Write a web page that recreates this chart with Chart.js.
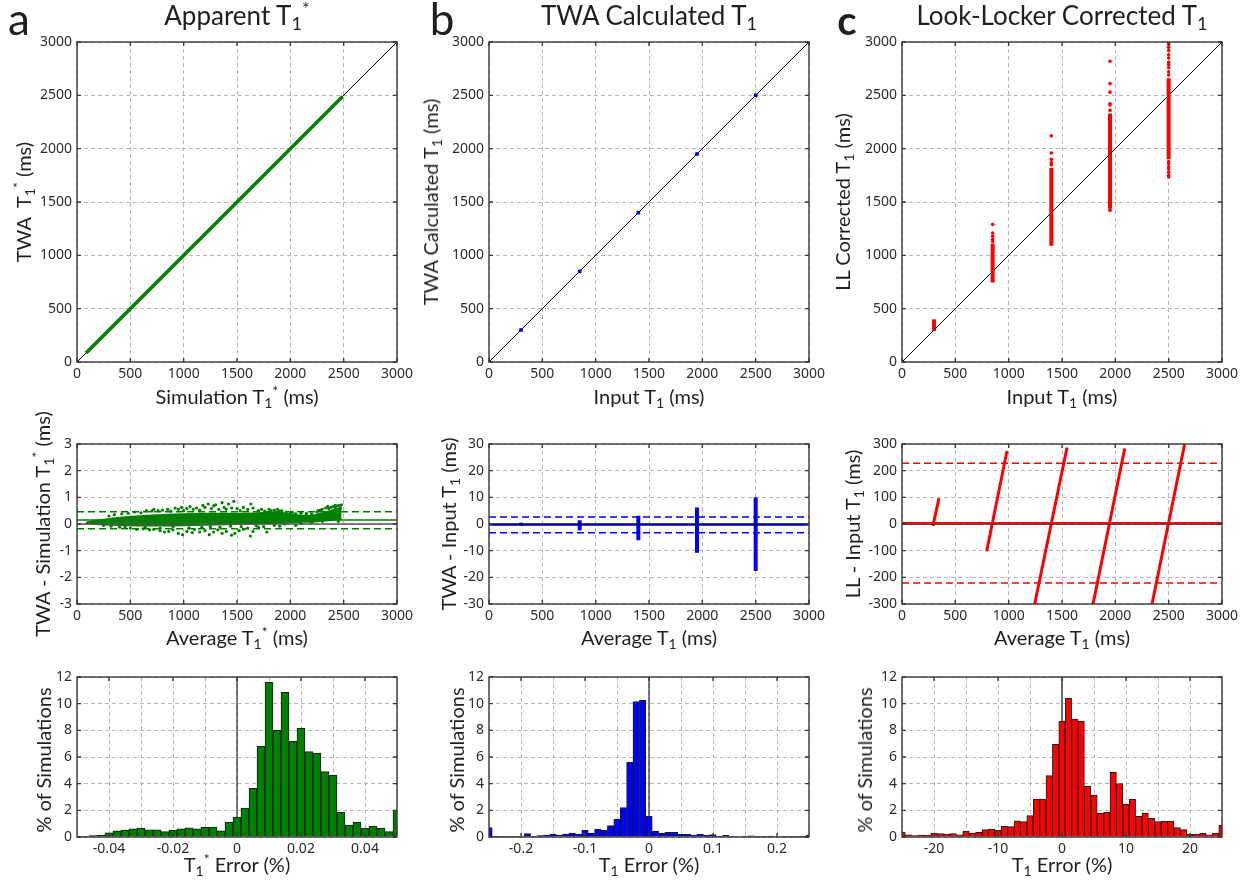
<!DOCTYPE html>
<html>
<head>
<meta charset="utf-8">
<title>T1 simulation comparison</title>
<script src="https://cdn.jsdelivr.net/npm/chart.js@4.4.1/dist/chart.umd.min.js"></script>
<style>
  body { margin: 0; width: 1250px; height: 886px; position: relative; overflow: hidden; background: #fff;
         font-family: Lato, "Noto Sans", sans-serif; color: #1f1f1f; }
  canvas { position: absolute; }
  .lbl { position: absolute; white-space: nowrap; line-height: 1; transform: translate(-50%, -50%); }
  .rot { transform: translate(-50%, -50%) rotate(-90deg); }
  sub, sup { font-size: 0.7em; line-height: 0; }
  sub { vertical-align: -0.25em; }
  sup { vertical-align: 0.55em; }
</style>
</head>
<body>
<script>
// colours used by the three columns
const GREEN = '#008000';
const BLUE = '#0000ff';
const RED = '#ff0000';

// ---- tick values ----
const t1Ticks = [0, 500, 1000, 1500, 2000, 2500, 3000];
const diffA_ticks = [-3, -2, -1, 0, 1, 2, 3];
const diffB_ticks = [-30, -20, -10, 0, 10, 20, 30];
const diffC_ticks = [-300, -200, -100, 0, 100, 200, 300];
const histY_ticks = [0, 2, 4, 6, 8, 10, 12];
const histA_grid = [-0.05, -0.04, -0.03, -0.02, -0.01, 0, 0.01, 0.02, 0.03, 0.04, 0.05];
const histA_labels = [-0.04, -0.02, 0, 0.02, 0.04];
const histB_grid = [-0.25, -0.2, -0.15, -0.1, -0.05, 0, 0.05, 0.1, 0.15, 0.2, 0.25];
const histB_labels = [-0.2, -0.1, 0, 0.1, 0.2];
const histC_grid = [-25, -20, -15, -10, -5, 0, 5, 10, 15, 20, 25];
const histC_labels = [-20, -10, 0, 10, 20];

// ---- a: apparent T1* ----
const apparentRange = [85, 2490];          // green identity run of points
const diffA_mean = 0.15, diffA_upper = 0.46, diffA_lower = -0.175;
// dense core of the Bland-Altman cloud
const cloudA_x   = [85, 150, 250, 400, 550, 700, 850, 1000, 1200, 1400, 1600, 1800, 1900, 2000, 2100, 2200, 2300, 2400, 2480];
const cloudA_top = [0.05, 0.1, 0.16, 0.23, 0.28, 0.32, 0.35, 0.37, 0.38, 0.38, 0.38, 0.42, 0.43, 0.36, 0.31, 0.3, 0.4, 0.52, 0.62];
const cloudA_bot = [0.03, 0.01, -0.02, -0.04, -0.06, -0.06, -0.06, -0.05, -0.03, -0.01, 0.01, 0.03, 0.05, 0.07, 0.08, 0.08, 0.12, 0.16, 0.2];
// scattered points around the core
const cloudA_dotsX = [300, 350, 420, 480, 540, 600, 650, 700, 720, 760, 800, 850, 880, 920, 950, 980, 1000, 1030, 1060, 1090,
  1120, 1150, 1180, 1200, 1230, 1260, 1280, 1300, 1330, 1360, 1380, 1400, 1420, 1450, 1470, 1500, 1530, 1560, 1600, 1630,
  1650, 1700, 1730, 1760, 1800, 1850, 1880, 1920, 1960, 2000, 2050, 2100, 2150, 2200, 2250, 2280, 2300, 2330, 2360, 2380,
  2400, 2420, 2440, 2460, 2470, 2480,
  250, 320, 400, 450, 500, 560, 620, 680, 720, 780, 820, 860, 900, 950, 990, 1030, 1080, 1100, 1150, 1200,
  1240, 1280, 1320, 1360, 1400, 1450, 1480, 1520, 1560, 1600, 1625, 1650, 1700, 1750, 1780, 1850, 1900, 1950, 2050, 2100,
  2200, 2300,
  640, 780, 900, 1050, 1170, 1250, 1340, 1440, 1540, 1680, 1820, 1900, 2020, 2150, 2260, 2350, 2420, 2450];
const cloudA_dotsY = [0.3, 0.35, 0.38, 0.4, 0.45, 0.42, 0.5, 0.48, 0.55, 0.5, 0.52, 0.55, 0.48, 0.6, 0.55, 0.62, 0.5, 0.58, 0.65, 0.55,
  0.6, 0.52, 0.7, 0.62, 0.75, 0.58, 0.68, 0.72, 0.55, 0.8, 0.62, 0.55, 0.75, 0.6, 0.85, 0.58, 0.5, 0.62, 0.55, 0.75,
  0.6, 0.5, 0.55, 0.48, 0.55, 0.52, 0.55, 0.5, 0.45, 0.42, 0.38, 0.4, 0.35, 0.38, 0.45, 0.52, 0.55, 0.6, 0.58, 0.62,
  0.65, 0.62, 0.68, 0.7, 0.6, 0.72,
  -0.05, -0.08, -0.12, -0.1, -0.15, -0.2, -0.18, -0.22, -0.2, -0.25, -0.3, -0.28, -0.22, -0.35, -0.4, -0.28, -0.32, -0.2, -0.3, -0.25,
  -0.4, -0.3, -0.22, -0.35, -0.28, -0.42, -0.35, -0.25, -0.2, -0.15, -0.45, -0.28, -0.12, -0.1, -0.3, -0.05, -0.08, 0.0, -0.05, 0.02,
  0.05, 0.1,
  -0.12, -0.15, -0.1, -0.14, -0.12, -0.1, -0.12, -0.08, -0.1, -0.06, 0.5, 0.48, 0.44, 0.4, 0.5, 0.66, 0.7, 0.1];
const histA_first = -0.05, histA_bin = 0.0025;
const histA_pct = [0.03, 0.05, 0.1, 0.15, 0.32, 0.47, 0.52, 0.62, 0.67, 0.54, 0.54, 0.4, 0.52, 0.62, 0.69, 0.62, 0.72, 0.74, 0.47, 1.1,
  1.5, 2.17, 3.65, 6.8, 11.6, 8.0, 10.85, 7.2, 8.15, 6.4, 6.3, 4.9, 4.65, 1.85, 0.9, 1.1, 0.67, 0.82, 0.67, 0.4, 2.0];

// ---- b: TWA calculated T1 ----
const inputT1 = [300, 850, 1400, 1950, 2500];
const twaT1 = [300, 850, 1400, 1950, 2500];
const twaDiffLo = [-0.6, -2.4, -6.1, -10.8, -17.6];
const twaDiffHi = [0.5, 1.4, 3.1, 6.2, 10.0];
const diffB_mean = -0.25, diffB_upper = 2.6, diffB_lower = -3.3;
const histB_first = -0.25, histB_bin = 0.01;
const histB_pct = [0.7, 0.07, 0.03, 0.02, 0.05, 0.05, 0.25, 0.05, 0.1, 0.12, 0.22, 0.15, 0.22, 0.3, 0.22, 0.5, 0.3, 0.6, 0.5, 0.85,
  1.35, 2.2, 5.6, 10.15, 10.25, 1.55, 0.45, 0.3, 0.35, 0.35, 0.2, 0.2, 0.15, 0.2, 0.12, 0.18, 0.05, 0.12, 0.05, 0.04,
  0.06, 0.08, 0.03, 0.02, 0.06, 0.04, 0.02, 0.01, 0.01, 0.02, 0.15];

// ---- c: Look-Locker corrected T1 ----
const llLo = [290, 745, 1090, 1440, 1900];
const llHi = [400, 1110, 1820, 2330, 2660];
const llOutX = [850, 850, 850, 850, 850, 1400, 1400, 1400, 1400, 1400, 1950, 1950, 1950, 1950, 1950, 1950, 1950, 1950,
  2500, 2500, 2500, 2500, 2500, 2500, 2500, 2500, 2500, 2500, 2500, 2500, 2500, 2500, 2500, 2500, 2500, 2500];
const llOutY = [1130, 1150, 1180, 1210, 1290, 1850, 1870, 1900, 1960, 2120, 1420, 1430, 2360, 2410, 2420, 2530, 2610, 2820,
  1735, 1750, 1780, 1810, 1830, 1860, 1880, 2690, 2720, 2760, 2790, 2810, 2850, 2880, 2920, 2950, 2980, 2995];
const llDiffStartX = [290, 794, 1244, 1791, 2344];
const llDiffStartY = [-7, -102, -300, -300, -300];
const llDiffEndX = [347, 984, 1547, 2088, 2650];
const llDiffEndY = [97, 274, 287, 283, 300];
const diffC_mean = 4, diffC_upper = 228, diffC_lower = -221;
const histC_first = -25, histC_bin = 1;
const histC_pct = [0.37, 0.17, 0.1, 0.15, 0.12, 0.3, 0.25, 0.22, 0.25, 0.17, 0.45, 0.3, 0.35, 0.55, 0.6, 0.52, 0.8, 0.78, 1.22, 1.15,
  1.6, 2.85, 2.85, 4.6, 6.95, 8.7, 10.4, 8.85, 8.7, 3.8, 3.15, 1.8, 1.85, 4.85, 4.0, 2.45, 2.85, 1.55, 1.8, 1.4,
  1.15, 1.2, 1.2, 0.7, 0.55, 0.2, 0.22, 0.27, 0.17, 0.3, 0.9];

// ---- helpers ----
// draws the box round the axes and the small inward ticks, like the original figure
const boxPlugin = {
  id: 'box',
  afterDatasetsDraw(chart) {
    const { ctx, chartArea: a, scales } = chart;
    ctx.save();
    ctx.strokeStyle = '#3a3a3a';
    ctx.lineWidth = 1.4;
    ctx.beginPath();
    scales.x.ticks.forEach(t => {
      if (t.label === '') return;
      const p = scales.x.getPixelForValue(t.value);
      ctx.moveTo(p, a.bottom); ctx.lineTo(p, a.bottom - 4);
      ctx.moveTo(p, a.top); ctx.lineTo(p, a.top + 4);
    });
    scales.y.ticks.forEach(t => {
      const p = scales.y.getPixelForValue(t.value);
      ctx.moveTo(a.left, p); ctx.lineTo(a.left + 4, p);
      ctx.moveTo(a.right, p); ctx.lineTo(a.right - 4, p);
    });
    ctx.stroke();
    ctx.strokeRect(a.left, a.top, a.right - a.left, a.bottom - a.top);
    ctx.restore();
  }
};

function axis(pos, min, max, gridVals, labelVals) {
  return {
    type: 'linear', position: pos, min: min, max: max, offset: false,
    grid: { color: '#b8b8b8', lineWidth: 1, drawTicks: false, offset: false },
    border: { display: false, dash: [4, 3] },
    ticks: {
      color: '#2b2b2b', font: { family: 'Noto Sans', size: 14 }, padding: pos === 'left' ? 5 : 4,
      autoSkip: false, maxRotation: 0, minRotation: 0,
      callback: v => {
        const hit = labelVals.find(l => Math.abs(l - v) < 1e-9);
        return hit === undefined ? '' : String(hit);
      }
    },
    afterBuildTicks: s => { s.ticks = gridVals.map(v => ({ value: v })); },
    afterFit: s => { if (pos === 'left') s.width = 60; else s.height = 28; }
  };
}

function panel(rect, type, xs, ys, datasets) {
  const [left, top, w, h] = rect;
  const cv = document.createElement('canvas');
  cv.width = w + 84;
  cv.height = h + 42;
  cv.style.left = (left - 60) + 'px';
  cv.style.top = (top - 14) + 'px';
  document.body.appendChild(cv);
  return new Chart(cv, {
    type: type,
    data: { datasets: datasets },
    options: {
      responsive: false, animation: false, events: [],
      layout: { padding: { left: 0, top: 14, right: 24, bottom: 0 } },
      plugins: { legend: { display: false }, tooltip: { enabled: false } },
      scales: { x: xs, y: ys }
    },
    plugins: [boxPlugin]
  });
}

function line(pts, color, width, dash) {
  return { type: 'line', data: pts, borderColor: color, borderWidth: width, borderDash: dash || [],
           pointRadius: 0, fill: false, tension: 0 };
}
function dots(xs, ys, color, r, style) {
  return { type: 'scatter', data: xs.map((x, i) => ({ x: x, y: ys[i] })), backgroundColor: color,
           borderWidth: 0, pointRadius: r, pointStyle: style || 'circle', showLine: false };
}
function bars(first, bin, vals, color) {
  return { type: 'bar', data: vals.map((v, i) => ({ x: first + i * bin, y: v })), backgroundColor: color,
           borderColor: '#1a1a1a', borderWidth: 1, barPercentage: 1, categoryPercentage: 1 };
}
function hline(y, x0, x1, color, width, dash) {
  return line([{ x: x0, y: y }, { x: x1, y: y }], color, width, dash);
}

const DASH = [7, 4];

// ---- row 1 ----
panel([77, 42, 320, 320], 'scatter',
  axis('bottom', 0, 3000, t1Ticks, t1Ticks), axis('left', 0, 3000, t1Ticks, t1Ticks), [
    line([{ x: apparentRange[0], y: apparentRange[0] }, { x: apparentRange[1], y: apparentRange[1] }], GREEN, 3.5),
    line([{ x: 0, y: 0 }, { x: 3000, y: 3000 }], '#000', 1)
  ]);

panel([489, 42, 320, 320], 'scatter',
  axis('bottom', 0, 3000, t1Ticks, t1Ticks), axis('left', 0, 3000, t1Ticks, t1Ticks), [
    dots(inputT1, twaT1, BLUE, 2.6, 'rect'),
    line([{ x: 0, y: 0 }, { x: 3000, y: 3000 }], '#000', 1)
  ]);

panel([902, 42, 320, 320], 'scatter',
  axis('bottom', 0, 3000, t1Ticks, t1Ticks), axis('left', 0, 3000, t1Ticks, t1Ticks), [
    line([{ x: 0, y: 0 }, { x: 3000, y: 3000 }], '#000', 1),
    dots(llOutX, llOutY, RED, 1.8),
    ...inputT1.map((x, i) => line([{ x: x, y: llLo[i] }, { x: x, y: llHi[i] }], RED, 4))
  ]);

// ---- row 2 ----
panel([77, 444, 320, 160], 'scatter',
  axis('bottom', 0, 3000, t1Ticks, t1Ticks), axis('left', -3, 3, diffA_ticks, diffA_ticks), [
    hline(diffA_upper, 0, 3000, GREEN, 1.5, DASH),
    hline(diffA_lower, 0, 3000, GREEN, 1.5, DASH),
    hline(diffA_mean, 0, 3000, GREEN, 1.5),
    hline(0, 0, 3000, '#555', 1.5),
    dots(cloudA_dotsX, cloudA_dotsY, GREEN, 1.6),
    Object.assign(line(cloudA_x.map((x, i) => ({ x: x, y: cloudA_top[i] })), GREEN, 2),
                  { fill: '+1', backgroundColor: GREEN }),
    line(cloudA_x.map((x, i) => ({ x: x, y: cloudA_bot[i] })), GREEN, 2)
  ]);

panel([489, 444, 320, 160], 'scatter',
  axis('bottom', 0, 3000, t1Ticks, t1Ticks), axis('left', -30, 30, diffB_ticks, diffB_ticks), [
    hline(diffB_upper, 0, 3000, BLUE, 1.5, DASH),
    hline(diffB_lower, 0, 3000, BLUE, 1.5, DASH),
    hline(diffB_mean, 0, 3000, '#0000b0', 2),
    hline(0, 0, 3000, '#222', 1.5),
    ...inputT1.map((x, i) => line([{ x: x, y: twaDiffLo[i] }, { x: x, y: twaDiffHi[i] }], BLUE, 4))
  ]);

panel([902, 444, 320, 160], 'scatter',
  axis('bottom', 0, 3000, t1Ticks, t1Ticks), axis('left', -300, 300, diffC_ticks, diffC_ticks), [
    hline(diffC_upper, 0, 3000, RED, 1.5, DASH),
    hline(diffC_lower, 0, 3000, RED, 1.5, DASH),
    hline(diffC_mean, 0, 3000, RED, 2),
    hline(0, 0, 3000, '#222', 1.5),
    ...llDiffStartX.map((x, i) => line([{ x: x, y: llDiffStartY[i] }, { x: llDiffEndX[i], y: llDiffEndY[i] }], RED, 3))
  ]);

// ---- row 3 ----
panel([77, 677, 320, 160], 'bar',
  axis('bottom', -0.05, 0.05, histA_grid, histA_labels), axis('left', 0, 12, histY_ticks, histY_ticks), [
    bars(histA_first, histA_bin, histA_pct, GREEN),
    line([{ x: 0, y: 0 }, { x: 0, y: 12 }], '#222', 1.2)
  ]);

panel([489, 677, 320, 160], 'bar',
  axis('bottom', -0.25, 0.25, histB_grid, histB_labels), axis('left', 0, 12, histY_ticks, histY_ticks), [
    bars(histB_first, histB_bin, histB_pct, BLUE),
    line([{ x: 0, y: 0 }, { x: 0, y: 12 }], '#222', 1.2)
  ]);

panel([902, 677, 320, 160], 'bar',
  axis('bottom', -25, 25, histC_grid, histC_labels), axis('left', 0, 12, histY_ticks, histY_ticks), [
    bars(histC_first, histC_bin, histC_pct, RED),
    line([{ x: 0, y: 0 }, { x: 0, y: 12 }], '#444', 1.5)
  ]);

// ---- text: panel letters, titles, axis titles ----
const T1 = 'T<sub>1</sub>';
const T1s = 'T<sub>1</sub><sup>*</sup>';

function addLabel(html, along, base, size, rot, bold) {
  const d = document.createElement('div');
  d.className = 'lbl' + (rot ? ' rot' : '');
  d.innerHTML = html;
  d.style.fontSize = size + 'px';
  if (bold) d.style.fontWeight = '700';
  const shift = 0.387 * size;
  if (rot) { d.style.left = (base - shift) + 'px'; d.style.top = along + 'px'; }
  else { d.style.left = along + 'px'; d.style.top = (base - shift) + 'px'; }
  document.body.appendChild(d);
}

addLabel('a', 19, 35, 44);
addLabel('b', 442, 35, 44);
addLabel('c', 847, 35, 40, false, true);

addLabel('Apparent ' + T1s, 237, 25, 26);
addLabel('TWA Calculated ' + T1, 649, 25, 26);
addLabel('Look-Locker Corrected ' + T1, 1062, 25, 26);

addLabel('Simulation ' + T1s + ' (ms)', 237, 404, 20);
addLabel('Input ' + T1 + ' (ms)', 649, 404, 20);
addLabel('Input ' + T1 + ' (ms)', 1062, 404, 20);
addLabel('TWA&nbsp; ' + T1s + ' (ms)', 202, 31, 20, true);
addLabel('TWA Calculated ' + T1 + ' (ms)', 202, 438, 20, true);
addLabel('LL Corrected ' + T1 + ' (ms)', 202, 850, 20, true);

addLabel('Average ' + T1s + ' (ms)', 237, 645, 20);
addLabel('Average ' + T1 + ' (ms)', 649, 645, 20);
addLabel('Average ' + T1 + ' (ms)', 1062, 645, 20);
addLabel('TWA - Simulation ' + T1s + ' (ms)', 524, 50, 20, true);
addLabel('TWA - Input ' + T1 + ' (ms)', 524, 456, 20, true);
addLabel('LL - Input ' + T1 + ' (ms)', 524, 860, 20, true);

addLabel(T1s + ' Error (%)', 237, 872, 20);
addLabel(T1 + ' Error (%)', 649, 872, 20);
addLabel(T1 + ' Error (%)', 1062, 872, 20);
addLabel('% of Simulations', 760, 51, 20, true);
addLabel('% of Simulations', 760, 464, 20, true);
addLabel('% of Simulations', 760, 872, 20, true);
</script>
</body>
</html>
